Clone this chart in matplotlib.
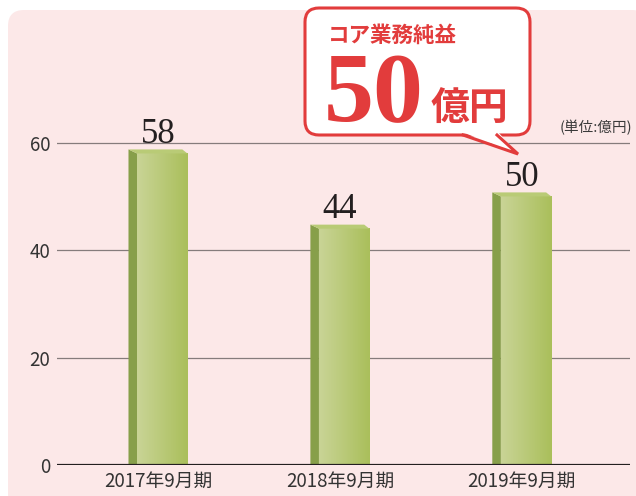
import numpy as np
import matplotlib
matplotlib.use("Agg")
import matplotlib.pyplot as plt
from matplotlib.patches import FancyBboxPatch, Polygon
from matplotlib.colors import LinearSegmentedColormap

plt.rcParams['font.family'] = ['Noto Sans CJK JP', 'DejaVu Sans']

# data
periods = ['2017年9月期', '2018年9月期', '2019年9月期']
values = [58, 44, 50]
yticks = [0, 20, 40, 60]
callout_title = 'コア業務純益'
callout_value = '50'
callout_unit = '億円'
unit_note = '(単位:億円)'

RED = '#e23c3c'
PINK = '#fce8e8'
TXT = '#333333'

fig = plt.figure(figsize=(6.36, 4.96), dpi=100)
fig.patch.set_facecolor('white')

# pink panel behind everything (pixel coords)
bg = fig.add_axes([0, 0, 1, 1], zorder=0)
bg.set_xlim(0, 636)
bg.set_ylim(496, 0)
bg.axis('off')
bg.add_patch(FancyBboxPatch((8, 10), 640, 500, boxstyle='round,pad=0,rounding_size=16',
                            fc=PINK, ec='none'))

# main chart
ax = fig.add_axes([57 / 636, 31 / 496, 573 / 636, 376 / 496], zorder=1)
ax.patch.set_alpha(0)
for s in ax.spines.values():
    s.set_visible(False)

for t in yticks[1:]:
    ax.axhline(t, color='#857c7c', lw=0.9, zorder=1)
ax.axhline(0, color='#231f20', lw=1.6, zorder=5)

ax.set_yticks(yticks)
ax.set_yticklabels([str(t) for t in yticks], fontsize=13.5, color=TXT)
ax.set_xticks(range(len(periods)))
ax.set_xticklabels(periods, fontsize=13.5, color=TXT)
ax.tick_params(axis='y', length=0, pad=5)
ax.tick_params(axis='x', length=0, pad=4)

grad = LinearSegmentedColormap.from_list('g', ['#c9d496', '#aabf5b'])
half = 0.162     # half of full bar width
side = 0.047     # left side face width
depth = 0.75     # top bevel height
for i, v in enumerate(values):
    xl = i - half
    xs = xl + side
    xr = i + half
    # left side face
    ax.add_patch(Polygon([(xl, 0), (xs, 0), (xs, v), (xl, v + depth)],
                         closed=True, fc='#879f4a', ec='none', zorder=2))
    # front face with gradient
    ax.imshow(np.linspace(0, 1, 64).reshape(1, -1), cmap=grad, aspect='auto',
              extent=(xs, xr, 0, v), zorder=2, interpolation='bilinear')
    # top face
    ax.add_patch(Polygon([(xl, v + depth), (xr - side * 0.6, v + depth), (xr, v), (xs, v)],
                         closed=True, fc='#b9cb76', ec='none', zorder=3))
    ax.text(i, v + depth + 1.2, str(v), ha='center', va='baseline',
            fontsize=25, color='#231f20', family=['Liberation Serif'])

ax.set_xlim(-0.555, 2.595)
ax.set_ylim(0, 70)

# callout overlay (pixel coords)
ov = fig.add_axes([0, 0, 1, 1], zorder=3)
ov.set_xlim(0, 636)
ov.set_ylim(496, 0)
ov.axis('off')
ov.patch.set_alpha(0)
ov.add_patch(FancyBboxPatch((305, 8), 225, 127, boxstyle='round,pad=0,rounding_size=14',
                            fc='white', ec=RED, lw=2.2))
ov.add_patch(Polygon([(462, 132), (518, 154), (498, 132)], closed=True,
                     fc='white', ec='none'))
ov.plot([463, 518, 497], [135, 154, 135], color=RED, lw=2.2, solid_joinstyle='miter')

ov.text(328, 42, callout_title, fontsize=15.5, fontweight='bold', color=RED,
        ha='left', va='baseline')
ov.text(324, 121, callout_value, fontsize=72, fontweight='bold', color=RED,
        ha='left', va='baseline', family=['Liberation Serif'])
ov.text(431, 120, callout_unit, fontsize=28, fontweight='bold', color=RED,
        ha='left', va='baseline')
ov.text(632, 132, unit_note, fontsize=10.5, color='#3a3a3a', ha='right', va='baseline')

fig.savefig('out.png', dpi=100)
